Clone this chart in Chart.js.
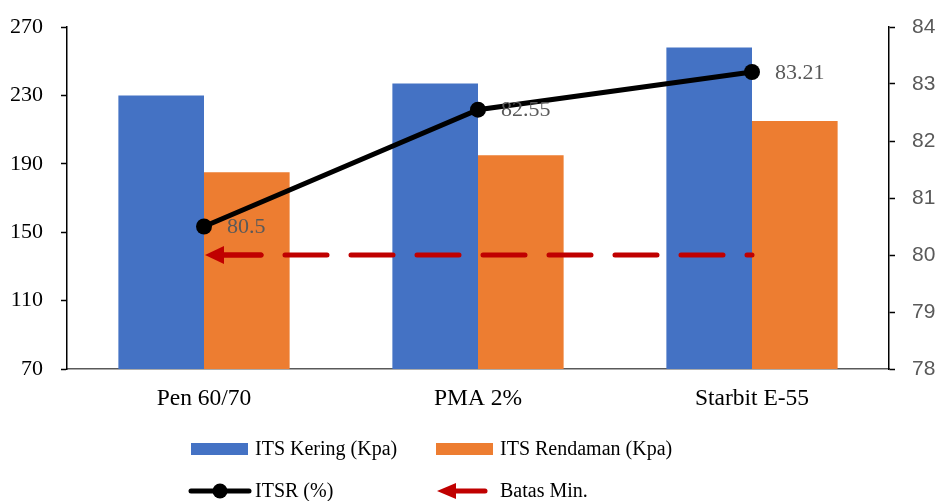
<!DOCTYPE html>
<html>
<head>
<meta charset="utf-8">
<script src="https://cdn.jsdelivr.net/npm/chart.js@4/dist/chart.umd.min.js"></script>
<style>
  html, body { margin: 0; padding: 0; background: #fff; }
  #wrap { width: 938px; height: 501px; }
</style>
</head>
<body>
<div id="wrap"><canvas id="c" width="938" height="501"></canvas></div>
<script>
// Categories and measured values
const categories = ['Pen 60/70', 'PMA 2%', 'Starbit E-55'];
const itsKering = [230, 237, 258];      // ITS dry (kPa)
const itsRendaman = [185, 195, 215];    // ITS soaked (kPa)
const itsr = [80.5, 82.55, 83.21];      // ITSR (%)
const batasMin = [80, 80, 80];          // minimum ITSR limit (%)

const leftTicks = [70, 110, 150, 190, 230, 270];
const rightTicks = [78, 79, 80, 81, 82, 83, 84];

const SERIF = '"Liberation Serif", "DejaVu Serif", serif';
const SANS = '"Liberation Sans", "Open Sans", sans-serif';
const RED = '#C00000';

function drawArrowHead(ctx, x, y, dir, len, half) {
  ctx.beginPath();
  ctx.moveTo(x, y);
  ctx.lineTo(x + dir * len, y - half);
  ctx.lineTo(x + dir * len, y + half);
  ctx.closePath();
  ctx.fill();
}

// Arrowhead at the start of the limit line + value labels on the ITSR line
const overlay = {
  id: 'overlay',
  afterDatasetsDraw(chart) {
    const ctx = chart.ctx;
    // arrow: solid shaft of the first dash plus head
    const limMeta = chart.getDatasetMeta(3);
    const p0 = limMeta.data[0];
    ctx.save();
    ctx.strokeStyle = RED;
    ctx.lineWidth = 5;
    ctx.lineCap = 'round';
    ctx.beginPath();
    ctx.moveTo(p0.x + 12, p0.y);
    ctx.lineTo(p0.x + 57, p0.y);
    ctx.stroke();
    ctx.fillStyle = RED;
    drawArrowHead(ctx, p0.x + 1, p0.y, 1, 19, 9);
    ctx.restore();

    // ITSR value labels
    const meta = chart.getDatasetMeta(2);
    ctx.save();
    ctx.fillStyle = '#595959';
    ctx.font = '22px ' + SERIF;
    ctx.textAlign = 'left';
    ctx.textBaseline = 'middle';
    meta.data.forEach((pt, i) => {
      ctx.fillText(String(itsr[i]), pt.x + 23, pt.y + 1);
    });
    ctx.restore();
  },
  afterDraw(chart) {
    // legend in two rows beneath the plot
    const ctx = chart.ctx;
    const ds = chart.data.datasets;
    ctx.save();
    ctx.font = '20px ' + SERIF;
    ctx.fillStyle = '#000';
    ctx.textAlign = 'left';
    ctx.textBaseline = 'middle';

    // row 1: bar swatches
    ctx.fillStyle = ds[0].backgroundColor;
    ctx.fillRect(191, 443, 57, 12);
    ctx.fillStyle = ds[1].backgroundColor;
    ctx.fillRect(436, 443, 57, 12);
    ctx.fillStyle = '#000';
    ctx.fillText(ds[0].label, 255, 450);
    ctx.fillText(ds[1].label, 500, 450);

    // row 2: line with marker, arrow
    ctx.strokeStyle = '#000';
    ctx.lineWidth = 5;
    ctx.lineCap = 'round';
    ctx.beginPath();
    ctx.moveTo(191, 491);
    ctx.lineTo(249, 491);
    ctx.stroke();
    ctx.beginPath();
    ctx.arc(220, 491, 7.5, 0, Math.PI * 2);
    ctx.fillStyle = '#000';
    ctx.fill();
    ctx.fillText(ds[2].label, 255, 492);

    ctx.strokeStyle = RED;
    ctx.lineWidth = 5;
    ctx.beginPath();
    ctx.moveTo(452, 491);
    ctx.lineTo(485, 491);
    ctx.stroke();
    ctx.fillStyle = RED;
    drawArrowHead(ctx, 437, 491, 1, 19, 8);
    ctx.fillStyle = '#000';
    ctx.fillText(ds[3].label, 500, 492);
    ctx.restore();
  }
};

function fixWidth(w) {
  return function (scale) {
    scale.width = w;
    scale.paddingTop = 0;
    scale.paddingBottom = 0;
  };
}

new Chart(document.getElementById('c'), {
  data: {
    labels: categories,
    datasets: [
      {
        type: 'bar', label: 'ITS Kering (Kpa)', data: itsKering,
        backgroundColor: '#4472C4', yAxisID: 'y', order: 3,
        categoryPercentage: 0.625, barPercentage: 1.0
      },
      {
        type: 'bar', label: 'ITS Rendaman (Kpa)', data: itsRendaman,
        backgroundColor: '#ED7D31', yAxisID: 'y', order: 3,
        categoryPercentage: 0.625, barPercentage: 1.0
      },
      {
        type: 'line', label: 'ITSR (%)', data: itsr, yAxisID: 'y1', order: 1,
        borderColor: '#000', backgroundColor: '#000', borderWidth: 5,
        pointRadius: 8, pointHoverRadius: 8, pointBackgroundColor: '#000',
        pointBorderWidth: 0, tension: 0
      },
      {
        type: 'line', label: 'Batas Min.', data: batasMin, yAxisID: 'y1', order: 2,
        borderColor: RED, borderWidth: 5, borderDash: [42, 24], borderDashOffset: 51,
        borderCapStyle: 'round', pointRadius: 0, pointHoverRadius: 0, tension: 0
      }
    ]
  },
  options: {
    responsive: false,
    animation: false,
    events: [],
    layout: { padding: { top: 27, left: 0, right: 0, bottom: 0 } },
    plugins: { legend: { display: false }, tooltip: { enabled: false } },
    scales: {
      x: {
        grid: { display: false, drawTicks: false },
        border: { display: true, color: '#595959', width: 1.5 },
        ticks: { color: '#000', font: { family: SERIF, size: 23.5 }, padding: 16 },
        afterFit(scale) { scale.height = 132; }
      },
      y: {
        position: 'left', min: 70, max: 270,
        afterBuildTicks(scale) { scale.ticks = leftTicks.map(v => ({ value: v })); },
        grid: { display: true, drawOnChartArea: false, drawTicks: true, tickLength: 6, color: '#000', tickWidth: 1.5 },
        border: { display: true, color: '#000', width: 1.5 },
        ticks: { color: '#000', font: { family: SERIF, size: 22 }, padding: 18 },
        afterFit: fixWidth(67)
      },
      y1: {
        position: 'right', min: 78, max: 84,
        afterBuildTicks(scale) { scale.ticks = rightTicks.map(v => ({ value: v })); },
        grid: { display: true, drawOnChartArea: false, drawTicks: true, tickLength: 6, color: '#000', tickWidth: 1.5 },
        border: { display: true, color: '#000', width: 1.5 },
        ticks: { color: '#595959', font: { family: SANS, size: 21 }, padding: 17 },
        afterFit: fixWidth(49)
      }
    }
  },
  plugins: [overlay]
});
</script>
</body>
</html>
